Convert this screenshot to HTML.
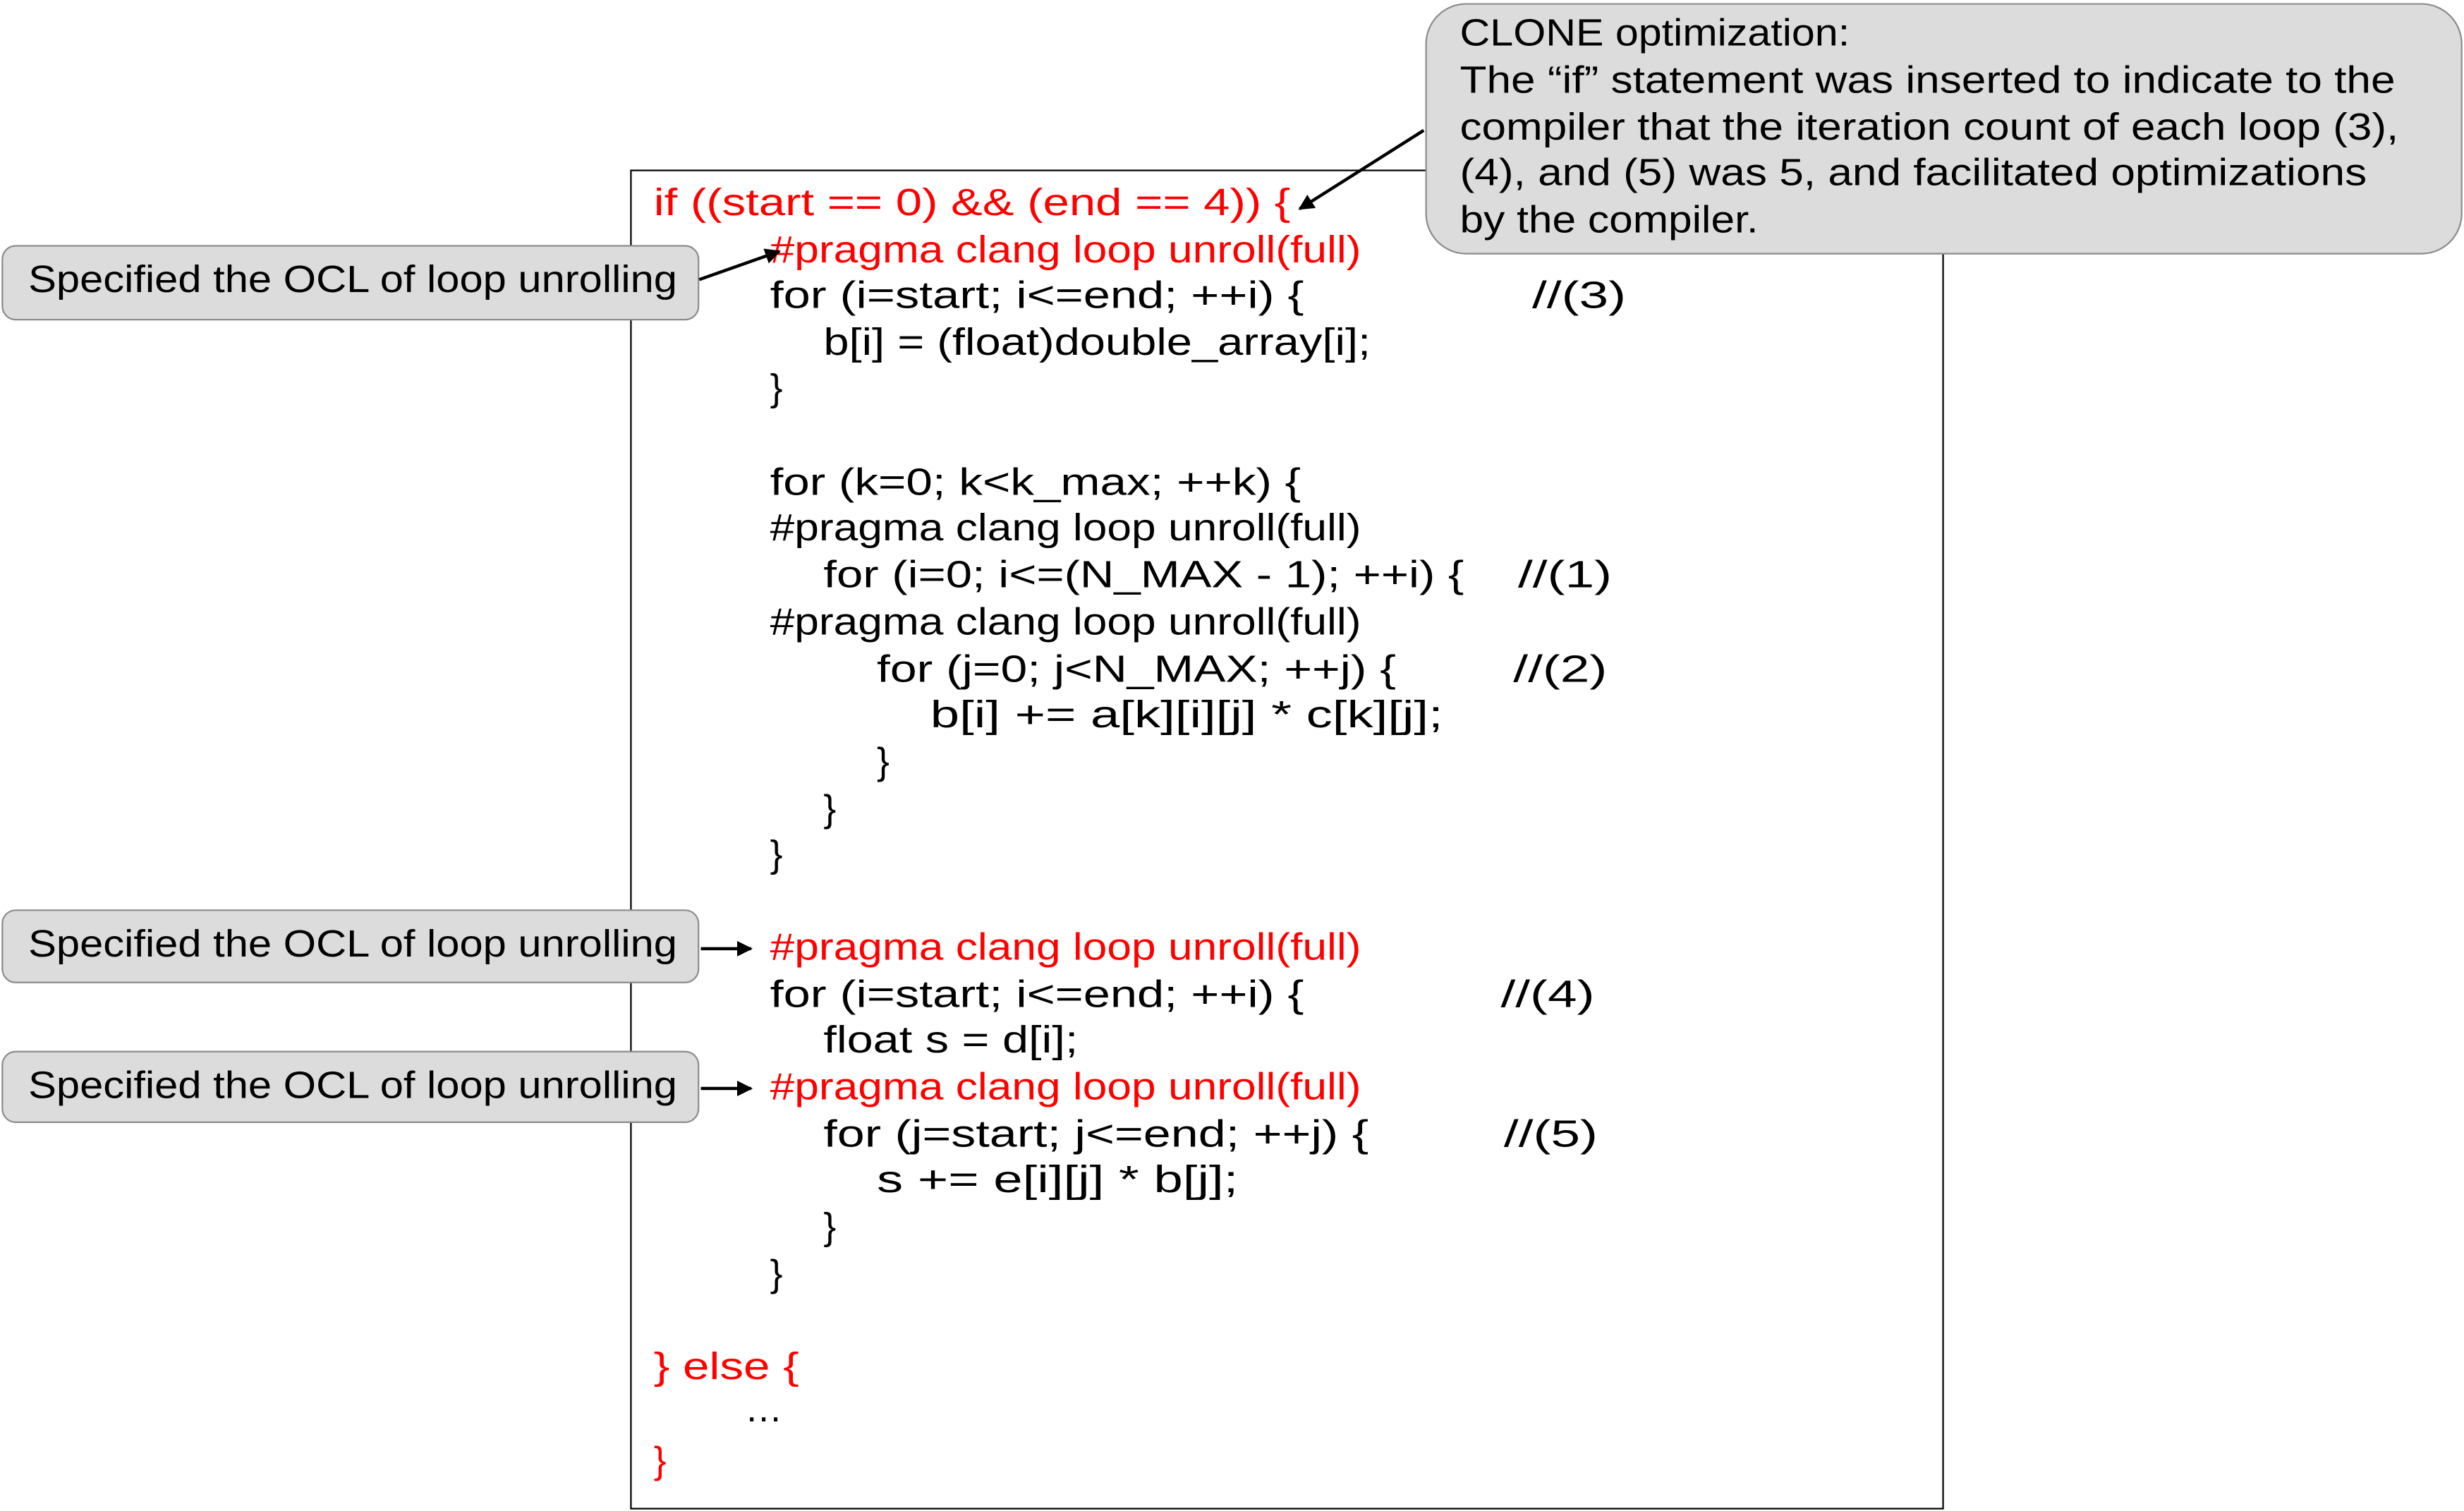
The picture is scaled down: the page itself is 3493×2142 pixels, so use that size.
<!DOCTYPE html>
<html><head><meta charset="utf-8">
<style>
html,body{margin:0;padding:0;background:#fff;}
body{width:3493px;height:2142px;overflow:hidden;position:relative;}
#s{position:absolute;left:0;top:0;width:1568px;height:962px;transform:scale(2.2277,2.2266);transform-origin:0 0;font-family:"Liberation Sans","Noto Sans CJK JP",sans-serif;font-size:24px;color:#000;}
.t{position:absolute;white-space:pre;line-height:30px;height:30px;transform-origin:0 50%;}
.r{color:#ff0000;}
.box{position:absolute;background:#dcdcdc;border:1.3px solid #8c8c8c;box-sizing:border-box;}
</style></head><body>
<div id="s">
<div style="position:absolute;left:401px;top:108px;width:836px;height:853px;border:1.5px solid #000;box-sizing:border-box;"></div>

<div class="t r" style="left:416px;top:115px;transform:scaleX(1.255)">if ((start == 0) &amp;&amp; (end == 4)) {</div>
<div class="t r" style="left:490px;top:145px;transform:scaleX(1.165)">#pragma clang loop unroll(full)</div>
<div class="t" style="left:490px;top:174px;transform:scaleX(1.283)">for (i=start; i&lt;=end; ++i) {</div>
<div class="t" style="left:975px;top:174px;transform:scaleX(1.4)">//(3)</div>
<div class="t" style="left:524px;top:204px;transform:scaleX(1.217)">b[i] = (float)double_array[i];</div>
<div class="t" style="left:490px;top:233px">}</div>
<div class="t" style="left:490px;top:293px;transform:scaleX(1.26)">for (k=0; k&lt;k_max; ++k) {</div>
<div class="t" style="left:490px;top:322px;transform:scaleX(1.165)">#pragma clang loop unroll(full)</div>
<div class="t" style="left:524px;top:352px;transform:scaleX(1.255)">for (i=0; i&lt;=(N_MAX - 1); ++i) {</div>
<div class="t" style="left:966px;top:352px;transform:scaleX(1.4)">//(1)</div>
<div class="t" style="left:490px;top:382px;transform:scaleX(1.165)">#pragma clang loop unroll(full)</div>
<div class="t" style="left:558px;top:412px;transform:scaleX(1.27)">for (j=0; j&lt;N_MAX; ++j) {</div>
<div class="t" style="left:963px;top:412px;transform:scaleX(1.4)">//(2)</div>
<div class="t" style="left:592px;top:441px;transform:scaleX(1.39)">b[i] += a[k][i][j] * c[k][j];</div>
<div class="t" style="left:558px;top:471px">}</div>
<div class="t" style="left:524px;top:501px">}</div>
<div class="t" style="left:490px;top:530px">}</div>
<div class="t r" style="left:490px;top:589px;transform:scaleX(1.165)">#pragma clang loop unroll(full)</div>
<div class="t" style="left:490px;top:619px;transform:scaleX(1.283)">for (i=start; i&lt;=end; ++i) {</div>
<div class="t" style="left:955px;top:619px;transform:scaleX(1.4)">//(4)</div>
<div class="t" style="left:524px;top:648px;transform:scaleX(1.246)">float s = d[i];</div>
<div class="t r" style="left:490px;top:678px;transform:scaleX(1.165)">#pragma clang loop unroll(full)</div>
<div class="t" style="left:524px;top:708px;transform:scaleX(1.31)">for (j=start; j&lt;=end; ++j) {</div>
<div class="t" style="left:957px;top:708px;transform:scaleX(1.4)">//(5)</div>
<div class="t" style="left:558px;top:737px;transform:scaleX(1.39)">s += e[i][j] * b[j];</div>
<div class="t" style="left:524px;top:767px">}</div>
<div class="t" style="left:490px;top:797px">}</div>
<div class="t r" style="left:416px;top:856px;transform:scaleX(1.26)">} else {</div>
<div class="t" style="left:474px;top:883px">…</div>
<div class="t r" style="left:416px;top:916px">}</div>

<div class="box" style="left:907px;top:2px;width:660px;height:160px;border-radius:26px;"></div>
<div class="t" style="left:929px;top:7px;transform:scaleX(1.107)">CLONE optimization:</div>
<div class="t" style="left:929px;top:37px;transform:scaleX(1.162)">The “if” statement was inserted to indicate to the</div>
<div class="t" style="left:929px;top:67px;transform:scaleX(1.16)">compiler that the iteration count of each loop (3),</div>
<div class="t" style="left:929px;top:96px;transform:scaleX(1.163)">(4), and (5) was 5, and facilitated optimizations</div>
<div class="t" style="left:929px;top:126px;transform:scaleX(1.13)">by the compiler.</div>

<div class="box" style="left:1px;top:156px;width:444px;height:48px;border-radius:9px;"></div>
<div class="t" style="left:18px;top:164px;transform:scaleX(1.116)">Specified the OCL of loop unrolling</div>
<div class="box" style="left:1px;top:579px;width:444px;height:47px;border-radius:9px;"></div>
<div class="t" style="left:18px;top:587px;transform:scaleX(1.116)">Specified the OCL of loop unrolling</div>
<div class="box" style="left:1px;top:669px;width:444px;height:46px;border-radius:9px;"></div>
<div class="t" style="left:18px;top:677px;transform:scaleX(1.116)">Specified the OCL of loop unrolling</div>

<svg style="position:absolute;left:0;top:0" width="1568" height="962">
<defs><marker id="a" markerWidth="10" markerHeight="10" refX="9" refY="5" orient="auto" markerUnits="userSpaceOnUse"><path d="M0,0 L10,5 L0,10 z" fill="#000"/></marker></defs>
<g stroke="#000" stroke-width="2" fill="none">
<line x1="445" y1="178" x2="496" y2="160" marker-end="url(#a)"/>
<line x1="446" y1="604" x2="478" y2="604" marker-end="url(#a)"/>
<line x1="446" y1="693" x2="478" y2="693" marker-end="url(#a)"/>
<line x1="906" y1="83" x2="827" y2="133" marker-end="url(#a)"/>
</g></svg>
</div>
</body></html>
